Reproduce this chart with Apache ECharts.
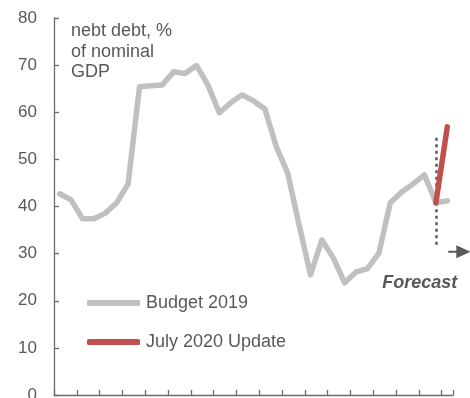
<!DOCTYPE html>
<html><head><meta charset="utf-8">
<script src="https://cdn.jsdelivr.net/npm/echarts@6/dist/echarts.min.js"></script>
<style>html,body{margin:0;padding:0;background:#fff;overflow:hidden}#c{width:470px;height:398px}</style>
</head><body><div id="c"></div>
<script>
// ---- data ----
const years = [];
for (let y = 1986; y <= 2020; y++) years.push(String(y));
const budget2019 = [42.7, 41.4, 37.4, 37.4, 38.6, 40.8, 44.8, 65.4, 65.6, 65.8,
  68.6, 68.2, 69.9, 65.8, 59.9, 62.0, 63.7, 62.4, 60.7, 52.7,
  47.1, 36.1, 25.5, 32.9, 29.1, 23.8, 26.1, 26.8, 30.1, 40.8,
  43.1, 44.8, 46.7, 40.8, 41.2];
const july2020 = [null, null, null, null, null, null, null, null, null, null,
  null, null, null, null, null, null, null, null, null, null,
  null, null, null, null, null, null, null, null, null, null,
  null, null, null, 40.8, 56.9];
const forecastIndex = 33;
const forecastMarker = [54.6, 31.2];
const arrowLevel = 30.4;
const yMin = 0, yMax = 80, yStep = 10;

const TXT = '#595959';
const AX = '#6b6b6b';
const FONT = '"Liberation Sans", Arial, sans-serif';

const chart = echarts.init(document.getElementById('c'), null, {renderer: 'canvas'});
const option = {
  animation: false,
  backgroundColor: '#fff',
  textStyle: {fontFamily: FONT},
  grid: {left: 54, right: 17, top: 18, bottom: 3, containLabel: false, outerBoundsMode: 'none'},
  title: {
    text: 'nebt debt, %\nof nominal\nGDP',
    left: 66, top: 16,
    textStyle: {fontFamily: FONT, fontSize: 18, fontWeight: 'normal', color: TXT, lineHeight: 20.5}
  },
  legend: {
    orient: 'vertical', left: 87, top: 294, itemGap: 21, padding: 0,
    itemWidth: 53, itemHeight: 6, icon: 'roundRect',
    textStyle: {fontFamily: FONT, fontSize: 18, color: TXT, padding: [0, 0, 0, 1]},
    data: ['Budget 2019', 'July 2020 Update']
  },
  xAxis: {
    type: 'category', data: years, boundaryGap: true,
    axisLine: {show: true, lineStyle: {color: AX, width: 1.3}},
    axisTick: {show: true, inside: true, length: 5, interval: 1, lineStyle: {color: AX, width: 1.3}},
    axisLabel: {show: false, interval: 1},
    splitLine: {show: false}
  },
  yAxis: {
    type: 'value', min: yMin, max: yMax, interval: yStep,
    axisLine: {show: true, lineStyle: {color: AX, width: 1.3}},
    axisTick: {show: true, inside: true, length: 5, lineStyle: {color: AX, width: 1.3}},
    axisLabel: {fontFamily: FONT, fontSize: 17, color: TXT, margin: 17},
    splitLine: {show: false}
  },
  series: [
    {
      name: 'Budget 2019', type: 'line', data: budget2019,
      symbol: 'none', color: '#c0c0c0',
      lineStyle: {color: '#c0c0c0', width: 5.5, cap: 'round', join: 'round'}
    },
    {
      name: 'July 2020 Update', type: 'line', data: july2020,
      symbol: 'none', color: '#c0504d', z: 3,
      lineStyle: {color: '#c0504d', width: 5.5, cap: 'round', join: 'round'},
      markLine: {
        silent: true, symbol: 'none', label: {show: false}, z: 1,
        lineStyle: {type: [3, 3.5], color: '#595959', width: 2.5},
        data: [[{coord: [forecastIndex, forecastMarker[0]]}, {coord: [forecastIndex, forecastMarker[1]]}]]
      }
    }
  ]
};
chart.setOption(option);

const p = chart.convertToPixel({gridIndex: 0}, [budget2019.length - 1, arrowLevel]);
chart.setOption({
  graphic: [
    {type: 'line', shape: {x1: p[0] + 1, y1: p[1], x2: p[0] + 11, y2: p[1]}, style: {stroke: TXT, lineWidth: 2}},
    {type: 'polygon', shape: {points: [[p[0] + 9, p[1] - 6.5], [p[0] + 23, p[1]], [p[0] + 9, p[1] + 6.5]]}, style: {fill: TXT}},
    {type: 'text', x: p[0] + 10, y: p[1] + 31,
      style: {text: 'Forecast', fill: TXT, font: 'italic bold 18px "Liberation Sans", Arial, sans-serif', align: 'right', verticalAlign: 'middle'}}
  ]
});
</script>
</body></html>
